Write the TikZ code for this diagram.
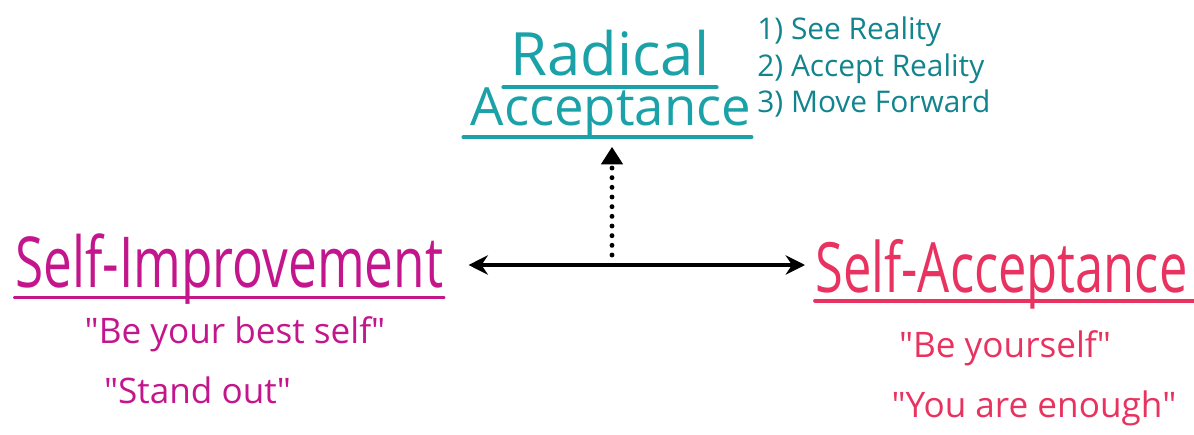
\documentclass[tikz,border=0pt]{standalone}
\usepackage{fontspec}
\setmainfont{Open Sans}
\newfontfamily\handn[FakeStretch=0.73]{Open Sans}
\usetikzlibrary{arrows.meta}
\definecolor{impcol}{RGB}{196,22,140}
\definecolor{acccol}{RGB}{232,50,95}
\definecolor{radcol}{RGB}{26,162,168}
\definecolor{listcol}{RGB}{18,132,142}

\begin{document}
\begin{tikzpicture}[
  big/.style={font=\handn\fontsize{#1}{#1}\selectfont, inner sep=0pt, anchor=base west},
  head/.style={font=\fontsize{#1}{#1}\selectfont, inner sep=0pt, anchor=base, text=radcol},
  quote/.style={font=\fontsize{20}{20}\selectfont, inner sep=0pt, anchor=base},
  stepline/.style={font=\fontsize{17}{17}\selectfont, inner sep=0pt, anchor=base west, text=listcol},
  uline/.style={line width=2.2pt, line cap=round},
  link/.style={{Stealth[length=11pt,width=11pt]}-{Stealth[length=11pt,width=11pt]}, line width=2pt},
  dotlink/.style={-{Triangle[length=10pt,width=12pt]}, line width=2.8pt, line cap=round,
                  dash pattern=on 0pt off 5.5pt}
]
\useasboundingbox (0,0) rectangle (23.88,8.68);
% top: radical acceptance
\node[head=34] (rad1) at (12.2,7.18) {Radical};
\node[head=30] (rad2) at (12.22,6.18) {Acceptance};
\draw[uline, radcol] ([xshift=-4pt,yshift=-7pt]rad1.base west) -- ([xshift=4pt,yshift=-7pt]rad1.base east);
\draw[uline, radcol] ([xshift=-4pt,yshift=-7pt]rad2.base west) -- ([yshift=-7pt]rad2.base east);
\node[stepline] (s1) at (15.14,7.88) {1) See Reality};
\node[stepline] (s2) at (15.14,7.16) {2) Accept Reality};
\node[stepline] (s3) at (15.14,6.44) {3) Move Forward};
% left: self-improvement
\node[big=40, text=impcol] (imp) at (0.3,2.94) {Self-Improvement};
\draw[uline, impcol] ([yshift=-6pt]imp.base west) -- ([yshift=-6pt]imp.base east);
\node[quote, text=impcol] (imp1) at (4.7,1.82) {\textquotedbl Be your best self\textquotedbl};
\node[quote, text=impcol] (imp2) at (3.95,0.62) {\textquotedbl Stand out\textquotedbl};
% right: self-acceptance
\node[big=39.5, text=acccol] (acc) at (16.3,2.84) {Self-Acceptance};
\draw[uline, acccol] ([yshift=-5pt]acc.base west) -- ([xshift=10pt,yshift=-5pt]acc.base east);
\node[quote, text=acccol] (acc1) at (20.1,1.54) {\textquotedbl Be yourself\textquotedbl};
\node[quote, text=acccol] (acc2) at (20.68,0.34) {\textquotedbl You are enough\textquotedbl};
% arrows
\coordinate (mid) at (12.24,3.38);
\draw[link] ([xshift=0.5cm]imp.east |- mid) -- ([xshift=-0.2cm]acc.west |- mid);
\draw[dotlink] ([yshift=0.2cm]mid) -- ([yshift=-5pt]mid |- rad2.south);
\end{tikzpicture}
\end{document}
